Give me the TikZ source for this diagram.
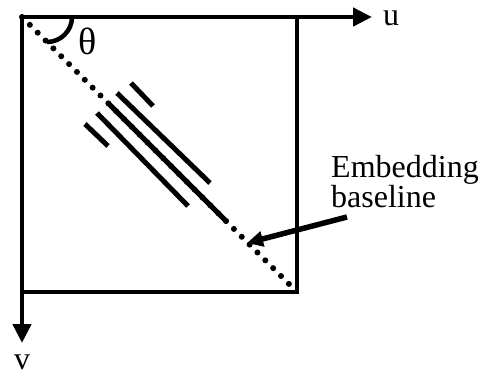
\documentclass[tikz,border=0pt]{standalone}
\usepackage{fontspec}
\setmainfont{Liberation Serif}
\usetikzlibrary{arrows.meta}
\begin{document}
\begin{tikzpicture}[x=1bp,y=-1bp,
  axis/.style={line width=4.5bp,-{Triangle[length=19bp,width=18bp]}},
  boxline/.style={line width=3.5bp},
  stripe/.style={line width=5bp},
  dotline/.style={line width=6bp,line cap=round,dash pattern=on 0bp off 11.1bp},
  lbl/.style={font=\fontsize{32bp}{22bp}\selectfont,inner sep=0pt},
  axlbl/.style={lbl,text height=15bp,text depth=0bp,anchor=base}]
\useasboundingbox (0,0) rectangle (493,375);
\coordinate (O) at (22,17);
\coordinate (U) at (372,17);
\coordinate (V) at (22,343);
\coordinate (C) at (297,292);
\coordinate (D) at (290,285);
% box
\draw[boxline] (22,292) -- (C) -- (297,17);
% axes
\draw[axis] (O) -- (U);
\draw[axis] (O) -- (V);
\node[axlbl] (ul) at (391,25) {u};
\node[axlbl] (vl) at (22,369) {v};
% dotted diagonal
\draw[dotline] (O) -- (D);
% theta arc
\draw[line width=4.5bp] (72,17) arc[start angle=0,end angle=90,radius=25,x=1bp,y=-1bp];
\node[lbl,font=\fontsize{38bp}{38bp}\selectfont] (th) at (88,41) {θ};
% stripes
\draw[stripe] (108,103) -- (227,222);
\draw[stripe] (117,93) -- (210,183);
\draw[stripe] (131,83) -- (153,106);
\draw[stripe] (97,113) -- (188,206);
\draw[stripe] (85,124) -- (108,146);
% label and arrow
\node[lbl,align=left,anchor=north west] (emb) at (331,155) {Embedding\\baseline};
\coordinate (A0) at (347,217);
\coordinate (A1) at (247,243);
\draw[line width=5.5bp,-{Triangle[length=16bp,width=15bp]}] (A0) -- (A1);
\end{tikzpicture}
\end{document}
